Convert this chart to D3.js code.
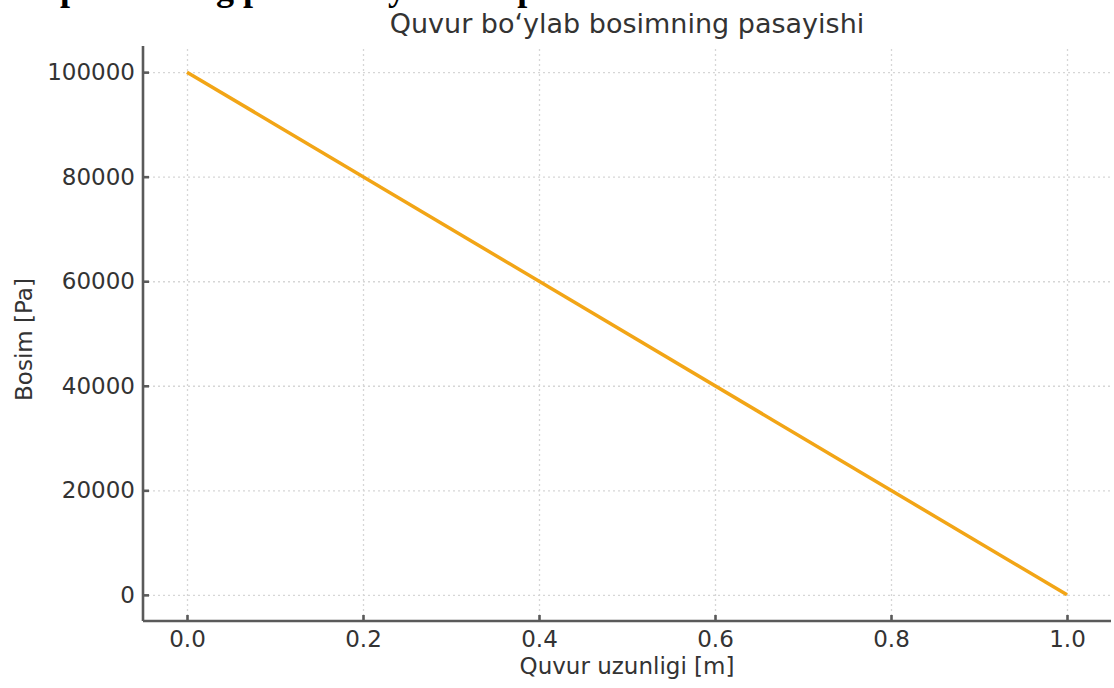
<!DOCTYPE html>
<html lang="uz">
<head>
<meta charset="UTF-8">
<title>Quvur bo‘ylab bosimning pasayishi</title>
<style>
body { margin: 0; background: #fff; }
svg text { font-family: "DejaVu Sans", sans-serif; fill: #333; }
.grid line { stroke: #d6d6d6; stroke-width: 1.3px; stroke-dasharray: 2,3; }
.grid path { display: none; }
.axis path, .axis line { stroke: #5a5a5a; stroke-width: 2.6px; }
.axis text { font-size: 23px; fill: #333; }
.line { fill: none; stroke: #f2a516; stroke-width: 3.5px; }
</style>
</head>
<body>
<script src="https://cdn.jsdelivr.net/npm/d3@7"></script>
<script>
    // data
    var lengthM = [0.0, 1.0];
    var pressurePa = [100000, 0];
    var xTicks = [0.0, 0.2, 0.4, 0.6, 0.8, 1.0];
    var yTicks = [0, 20000, 40000, 60000, 80000, 100000];

    var W = 1114, H = 688;
    var margin = { top: 46, right: 3, bottom: 67, left: 143 },
        width = W - margin.left - margin.right,
        height = H - margin.top - margin.bottom;

    var x = d3.scaleLinear().domain([-0.05, 1.05]).range([0, width]);
    var y = d3.scaleLinear().domain([-5000, 105000]).range([height, 0]);

    var svg = d3.select("body").append("svg")
        .attr("width", W)
        .attr("height", H);

    // page heading above the figure, only its descenders show
    svg.append("text")
        .attr("x", -16)
        .attr("y", 0)
        .style("font-family", "'Liberation Serif', serif")
        .style("font-weight", "bold")
        .style("font-size", "36px")
        .style("fill", "#000")
        .text("Komponentning pastlashi yuklash parametri");

    var g = svg.append("g")
        .attr("transform", "translate(" + margin.left + "," + margin.top + ")");

    g.append("g")
        .attr("class", "grid")
        .attr("transform", "translate(0," + height + ")")
        .call(d3.axisBottom(x).tickValues(xTicks).tickSize(-height).tickFormat(""));

    g.append("g")
        .attr("class", "grid")
        .call(d3.axisLeft(y).tickValues(yTicks).tickSize(-width).tickFormat(""));

    var valueline = d3.line()
        .x(function(d, i) { return x(lengthM[i]); })
        .y(function(d) { return y(d); });

    g.append("path")
        .datum(pressurePa)
        .attr("class", "line")
        .attr("d", valueline);

    var xAxis = g.append("g")
        .attr("class", "axis")
        .attr("transform", "translate(0," + height + ")")
        .call(d3.axisBottom(x).tickValues(xTicks).tickSize(-6).tickPadding(10)
            .tickFormat(d3.format(".1f")));
    xAxis.select(".domain").attr("d", "M0,0H" + width);

    var yAxis = g.append("g")
        .attr("class", "axis")
        .call(d3.axisLeft(y).tickValues(yTicks).tickSize(-6).tickPadding(8)
            .tickFormat(d3.format("d")));
    yAxis.select(".domain").attr("d", "M0,0V" + height);

    svg.append("text")
        .attr("x", 627)
        .attr("y", 33)
        .attr("text-anchor", "middle")
        .style("font-size", "27px")
        .text("Quvur bo‘ylab bosimning pasayishi");

    svg.append("text")
        .attr("x", 627)
        .attr("y", 674)
        .attr("text-anchor", "middle")
        .style("font-size", "23px")
        .text("Quvur uzunligi [m]");

    svg.append("text")
        .attr("transform", "translate(32," + (margin.top + y(50000) + 6) + ") rotate(-90)")
        .attr("text-anchor", "middle")
        .style("font-size", "23px")
        .text("Bosim [Pa]");
</script>
</body>
</html>
